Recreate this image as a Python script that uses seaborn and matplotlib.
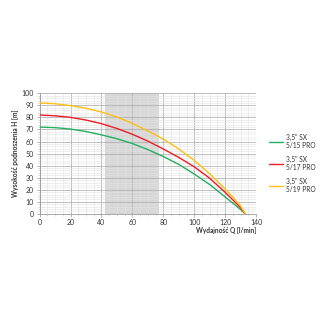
import numpy as np
import pandas as pd
import matplotlib
matplotlib.use("Agg")
import matplotlib.pyplot as plt
import seaborn as sns
from matplotlib.ticker import MultipleLocator

q = [0, 10, 20, 30, 40, 50, 60, 70, 80, 90, 100, 110, 120, 125, 130, 133]
h_515 = [72, 71.5, 70.3, 68.3, 65.5, 62.3, 58.3, 53.3, 47.5, 41, 33, 24.3, 14, 8.8, 3.5, 0]
h_517 = [82, 81.3, 80, 77.8, 74.8, 70.8, 66, 60.3, 53.8, 46.8, 39, 29.5, 17.8, 11.5, 5, 0]
h_519 = [92, 91.3, 89.8, 87.6, 84.5, 80.3, 75, 68.8, 62, 53.8, 44.3, 33.2, 20.6, 13.8, 6.5, 0]
series_names = ['3,5" SX\n5/15 PRO', '3,5" SX\n5/17 PRO', '3,5" SX\n5/19 PRO']
colors = ["#22b060", "#ee1c25", "#fcbf12"]
shade_range = [42, 77]

df = pd.concat([
    pd.DataFrame({"Q": q, "H": h, "model": name})
    for h, name in zip([h_515, h_517, h_519], series_names)
])

sns.set_style("white")
plt.rcParams["font.family"] = ["Lato", "DejaVu Sans"]

fig = plt.figure(figsize=(3.25, 3.25), dpi=100)
ax = fig.add_axes([0.122, 0.342, 0.666, 0.371])

ax.axvspan(shade_range[0], shade_range[1], color="#d6d6d6", zorder=0, lw=0)

sns.lineplot(data=df, x="Q", y="H", hue="model", palette=colors, ax=ax,
             linewidth=1.0, legend=True, zorder=3)

ax.set_xlim(0, 140)
ax.set_ylim(0, 100)
ax.xaxis.set_major_locator(MultipleLocator(20))
ax.xaxis.set_minor_locator(MultipleLocator(5))
ax.yaxis.set_major_locator(MultipleLocator(10))
ax.yaxis.set_minor_locator(MultipleLocator(2))
ax.grid(which="major", color="#b4b4b4", linewidth=0.6, zorder=1)
ax.grid(which="minor", color="#e2e2e2", linewidth=0.4, zorder=1)
ax.set_axisbelow(True)

for s in ["top", "right"]:
    ax.spines[s].set_visible(False)
for s in ["left", "bottom"]:
    ax.spines[s].set_color("#9a9a9a")
    ax.spines[s].set_linewidth(0.6)

ax.tick_params(axis="both", which="major", labelsize=5, length=2, width=0.5,
               color="#9a9a9a", pad=2, labelcolor="#333333")
ax.tick_params(axis="both", which="minor", length=1.2, width=0.4, color="#bbbbbb")
ax.tick_params(axis="x", which="both", bottom=True)
ax.tick_params(axis="y", which="both", left=True)

ax.set_xlabel("Wydajność Q [l/min]", fontsize=4.7, color="#333333",
              fontweight="bold")
ax.xaxis.set_label_coords(1.0, -0.11)
ax.xaxis.label.set_horizontalalignment("right")
ax.set_ylabel("Wysokość podnoszenia H [m]", fontsize=4.8, color="#333333",
              fontweight="bold", labelpad=2)

leg = ax.legend(loc="center left", bbox_to_anchor=(1.03, 0.42), frameon=False,
                fontsize=4.8, handlelength=2.2, handletextpad=0.4,
                labelspacing=1.0, title=None)
for t in leg.get_texts():
    t.set_color("#333333")
for l in leg.get_lines():
    l.set_linewidth(1.0)

fig.savefig("out.png", dpi=100)
